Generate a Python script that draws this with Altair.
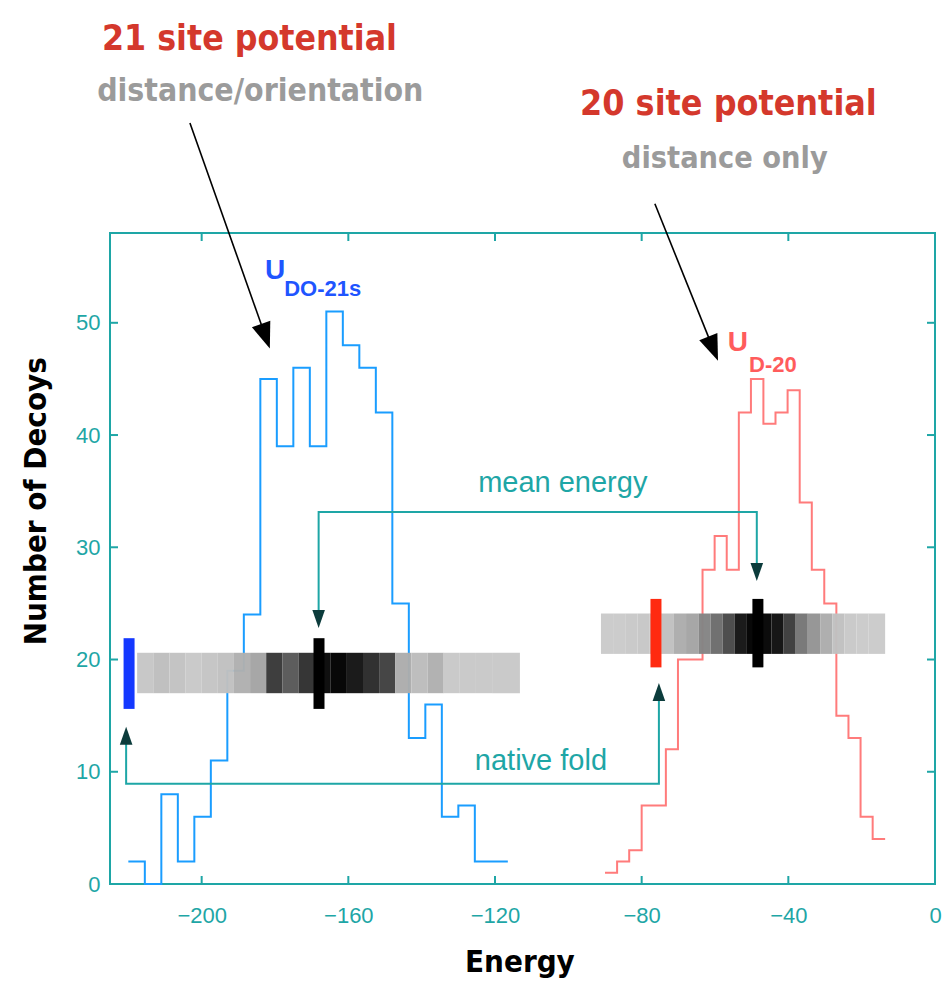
import altair as alt
import pandas as pd

# ---------------- data ----------------
blue_edges = [-220.0, -215.5, -211.0, -206.5, -202.0, -197.5, -193.0, -188.5, -184.0, -179.5,
              -175.0, -170.5, -166.0, -161.5, -157.0, -152.5, -148.0, -143.5, -139.0, -134.5,
              -130.0, -125.5, -121.0, -116.5]
blue_counts = [2, 0, 8, 2, 6, 11, 19, 24, 45, 39, 46, 39, 51, 48, 46, 42, 25, 13, 16, 6, 7, 2, 2]

red_edges = [-90.0, -86.7, -83.4, -80.0, -76.7, -73.4, -70.1, -66.8, -63.4, -60.1, -56.8, -53.5,
             -50.2, -46.8, -43.5, -40.2, -36.9, -33.6, -30.2, -26.9, -23.6, -20.3, -17.0, -13.6]
red_counts = [1, 2, 3, 7, 7, 12, 20, 20, 28, 31, 28, 42, 45, 41, 42, 44, 34, 28, 25, 15, 13, 6, 4]

# grey-scale density strips (grey level 0..255 per cell)
blue_band_edges = [-217.6, -213.2, -208.8, -204.4, -200.0, -195.6, -191.2, -186.8, -182.4, -178.0,
                   -173.6, -169.2, -164.8, -160.4, -156.0, -151.6, -147.2, -142.8, -138.4, -134.0,
                   -129.6, -125.2, -120.8, -113.2]
blue_band_grey = [198, 190, 194, 200, 196, 192, 176, 164, 56, 88, 48, 8, 0, 20, 42, 64, 172, 188,
                  176, 200, 200, 200, 200]
blue_band_range = [17.0, 20.6]

red_band_edges = [-91.1, -87.8, -84.5, -81.1, -77.8, -74.5, -71.2, -67.9, -64.5, -61.2, -57.9,
                  -54.6, -51.3, -47.9, -44.6, -41.3, -38.0, -34.7, -31.3, -28.0, -24.7, -21.4,
                  -18.1, -13.6]
red_band_grey = [202, 202, 200, 198, 196, 192, 172, 164, 132, 108, 72, 20, 0, 4, 16, 60, 118, 148,
                 172, 192, 200, 202, 202]
red_band_range = [20.5, 24.1]

# native-fold and mean-energy markers
marker_energy = [-219.8, -168.0, -76.1, -48.3]
marker_lo = [15.6, 15.6, 19.3, 19.3]
marker_hi = [21.9, 21.9, 25.4, 25.4]
marker_color = ["#1438ff", "#000000", "#ff2a10", "#000000"]

# connector lines ("mean energy", "native fold")
conn_group = ["mean", "mean", "mean", "mean", "native", "native", "native", "native"]
conn_x = [-168.1, -168.1, -48.6, -48.6, -220.6, -220.6, -75.3, -75.3]
conn_y = [23.6, 33.15, 33.15, 27.8, 13.2, 8.93, 8.93, 17.1]
conn_head_x = [-168.1, -48.6, -220.6, -75.3]
conn_head_y = [23.6, 27.8, 13.2, 17.1]
conn_head_dir = ["down", "down", "up", "up"]

# black annotation arrows
arrow_group = ["a1", "a1", "a2", "a2"]
arrow_x = [-203.2, -182.6, -76.4, -60.5]
arrow_y = [67.8, 48.8, 60.6, 47.7]
arrow_head_x = [-182.6, -60.5]
arrow_head_y = [48.8, 47.7]
arrow_head_angle = [160.4, 158.1]

xtick_vals = [-200, -160, -120, -80, -40]
xlabel_vals = [-200, -160, -120, -80, -40, 0]
ytick_vals = [10, 20, 30, 40, 50]
ylabel_vals = [0, 10, 20, 30, 40, 50]

# text annotations
head_text = ["21 site potential", "distance/orientation", "20 site potential", "distance only"]
head_x = [-227.2, -228.5, -96.8, -85.4]
head_y = [74.3, 69.8, 68.5, 63.75]
head_color = ["#d4382c", "#9b9b9b", "#d4382c", "#9b9b9b"]
head_size = [35.3, 31.7, 35.5, 30.4]

title_text = ["Number of Decoys", "Energy"]
title_x = [-244.9, -113.2]
title_y = [34.1, -7.0]
title_angle = [270, 0]

ulab_text = ["U", "DO-21s", "U", "D-20"]
ulab_x = [-182.7, -177.5, -56.5, -50.7]
ulab_y = [53.9, 52.4, 47.5, 45.6]
ulab_color = ["#1f55ff", "#1f55ff", "#ff5c5c", "#ff5c5c"]
ulab_size = [28, 22, 28, 22]

conn_text = ["mean energy", "native fold"]
conn_text_x = [-124.6, -125.5]
conn_text_y = [34.9, 10.2]

# ---------------- styling ----------------
TEAL = "#1ea6a6"
HAND = "Liberation Sans Narrow, DejaVu Sans Condensed, Liberation Sans, sans-serif"
SANS = "Liberation Sans, Arial, sans-serif"
W, H = 825, 651

xscale = alt.Scale(domain=[-225, 0], nice=False, zero=False)
yscale = alt.Scale(domain=[0, 58], nice=False, zero=False)
xaxis = alt.Axis(values=xlabel_vals, grid=False, ticks=False, domain=False, labelColor=TEAL,
                 labelFont=SANS, labelFontSize=22, labelPadding=21, title=None, labelFlush=False)
yaxis = alt.Axis(values=ylabel_vals, grid=False, ticks=False, domain=False, labelColor=TEAL,
                 labelFont=SANS, labelFontSize=22, labelPadding=10, title=None)


def X(f):
    return alt.X(f, type="quantitative", scale=xscale, axis=xaxis)


def Y(f):
    return alt.Y(f, type="quantitative", scale=yscale, axis=yaxis)


# ---------------- frames ----------------
hist = pd.concat([
    pd.DataFrame({"e": blue_edges, "n": blue_counts + [blue_counts[-1]], "s": "blue"}),
    pd.DataFrame({"e": red_edges, "n": red_counts + [red_counts[-1]], "s": "red"}),
])

band = pd.concat([
    pd.DataFrame({"a": blue_band_edges[:-1], "b": blue_band_edges[1:],
                  "lo": blue_band_range[0], "hi": blue_band_range[1],
                  "c": ["#%02x%02x%02x" % (g, g, g) for g in blue_band_grey]}),
    pd.DataFrame({"a": red_band_edges[:-1], "b": red_band_edges[1:],
                  "lo": red_band_range[0], "hi": red_band_range[1],
                  "c": ["#%02x%02x%02x" % (g, g, g) for g in red_band_grey]}),
])

markers = pd.DataFrame({"e": marker_energy, "lo": marker_lo, "hi": marker_hi, "c": marker_color})
conn = pd.DataFrame({"g": conn_group, "x": conn_x, "y": conn_y, "o": list(range(len(conn_x)))})
DOWN = "M0,1L0.7,-1L-0.7,-1Z"
UP = "M0,-1L0.7,1L-0.7,1Z"
conn_heads = pd.DataFrame({"x": conn_head_x, "y": conn_head_y,
                           "sh": [DOWN if d == "down" else UP for d in conn_head_dir]})
arrows = pd.DataFrame({"g": arrow_group, "x": arrow_x, "y": arrow_y, "o": list(range(len(arrow_x)))})
arrow_heads = pd.DataFrame({"x": arrow_head_x, "y": arrow_head_y, "a": arrow_head_angle})

heads = pd.DataFrame({"t": head_text, "x": head_x, "y": head_y, "c": head_color, "s": head_size})
titles = pd.DataFrame({"t": title_text, "x": title_x, "y": title_y, "a": title_angle})
ulabs = pd.DataFrame({"t": ulab_text, "x": ulab_x, "y": ulab_y, "c": ulab_color, "s": ulab_size})
ctext = pd.DataFrame({"t": conn_text, "x": conn_text_x, "y": conn_text_y})
xt = pd.DataFrame({"v": xtick_vals})
yt = pd.DataFrame({"v": ytick_vals})

# ---------------- layers ----------------
hist_layer = alt.Chart(hist).mark_line(interpolate="step-after", strokeWidth=2).encode(
    x=X("e"), y=Y("n"),
    color=alt.Color("s:N", scale=alt.Scale(domain=["blue", "red"], range=["#1a9dff", "#ff7b7b"]),
                    legend=None),
    detail="s:N",
)

band_layer = alt.Chart(band).mark_rect(opacity=0.97).encode(
    x=X("a"), x2="b", y=Y("lo"), y2="hi", color=alt.Color("c:N", scale=None)
)

marker_layer = alt.Chart(markers).mark_rule(strokeWidth=11).encode(
    x=X("e"), y=Y("lo"), y2="hi", color=alt.Color("c:N", scale=None)
)

conn_layer = alt.Chart(conn).mark_line(color=TEAL, strokeWidth=2).encode(
    x=X("x"), y=Y("y"), detail="g:N", order="o:Q"
)

conn_head_layer = alt.Chart(conn_heads).mark_point(filled=True, color="#0c3c3c", opacity=1,
                                                   size=324).encode(
    x=X("x"), y=Y("y"), shape=alt.Shape("sh:N", scale=None)
)

arrow_layer = alt.Chart(arrows).mark_line(color="#000000", strokeWidth=1.6).encode(
    x=X("x"), y=Y("y"), detail="g:N", order="o:Q"
)

arrow_head_layer = alt.Chart(arrow_heads).mark_point(
    filled=True, color="#000000", opacity=1, size=676, shape="M0,-1L0.75,1L-0.75,1Z"
).encode(x=X("x"), y=Y("y"), angle=alt.Angle("a:Q", scale=None))

head_layer = alt.Chart(heads).mark_text(font=HAND, fontWeight="bold", align="left",
                                        baseline="alphabetic").encode(
    x=X("x"), y=Y("y"), text="t:N", color=alt.Color("c:N", scale=None),
    size=alt.Size("s:Q", scale=None)
)

title_layer = alt.Chart(titles).mark_text(font=HAND, fontWeight="bold", align="center",
                                          baseline="middle", fontSize=31, color="#000000").encode(
    x=X("x"), y=Y("y"), text="t:N", angle=alt.Angle("a:Q", scale=None)
)

ulab_layer = alt.Chart(ulabs).mark_text(font=SANS, fontWeight="bold", align="left",
                                        baseline="alphabetic").encode(
    x=X("x"), y=Y("y"), text="t:N", color=alt.Color("c:N", scale=None),
    size=alt.Size("s:Q", scale=None)
)

ctext_layer = alt.Chart(ctext).mark_text(font=SANS, fontSize=29, align="left",
                                         baseline="alphabetic", color=TEAL).encode(
    x=X("x"), y=Y("y"), text="t:N"
)

tick_bottom = alt.Chart(xt).mark_rule(color=TEAL, strokeWidth=2).encode(
    x=X("v"), y=alt.value(H), y2=alt.value(H - 8))
tick_top = alt.Chart(xt).mark_rule(color=TEAL, strokeWidth=2).encode(
    x=X("v"), y=alt.value(0), y2=alt.value(8))
tick_left = alt.Chart(yt).mark_rule(color=TEAL, strokeWidth=2).encode(
    y=Y("v"), x=alt.value(0), x2=alt.value(8))
tick_right = alt.Chart(yt).mark_rule(color=TEAL, strokeWidth=2).encode(
    y=Y("v"), x=alt.value(W), x2=alt.value(W - 8))

chart = alt.layer(
    hist_layer, band_layer, marker_layer, conn_layer, conn_head_layer,
    arrow_layer, arrow_head_layer, head_layer, title_layer, ulab_layer, ctext_layer,
    tick_bottom, tick_top, tick_left, tick_right,
).properties(
    width=W, height=H,
    autosize=alt.AutoSizeParams(type="none"),
    padding={"left": 110, "top": 233, "right": 9, "bottom": 99},
    background="white",
).configure_view(stroke=TEAL, strokeWidth=2)

chart.save("out.html", embed_options={"renderer": "svg", "actions": False})
